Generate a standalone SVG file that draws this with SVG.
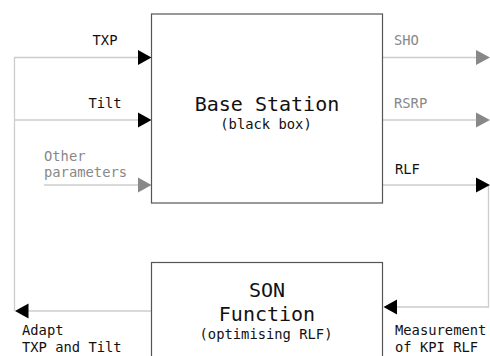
<svg xmlns="http://www.w3.org/2000/svg" width="490" height="356" viewBox="0 0 490 356">
  <style>
    .box { fill: #ffffff; stroke: #555555; stroke-width: 1.2; }
    .wire { fill: none; stroke: #cccccc; stroke-width: 1.3; }
    .t { font-family: "DejaVu Sans Mono", "Liberation Mono", monospace; }
    .sm { font-size: 13.8px; }
    .lg { font-size: 20px; }
    .dark { fill: #111111; }
    .dim { fill: #888888; }
    .head-k { fill: #000000; }
    .head-g { fill: #888888; }
  </style>
  <rect width="490" height="356" fill="#ffffff"/>

  <g id="connectors">
    <!-- feedback loop: SON output back to the station inputs -->
    <polyline class="wire" points="151.5,311 28,311"/>
    <polyline class="wire" points="14.5,311 14.5,57.5 138,57.5"/>
    <line class="wire" x1="14.5" y1="120" x2="138" y2="120"/>
    <line class="wire" x1="44" y1="185" x2="138" y2="185"/>
    <!-- station outputs -->
    <line class="wire" x1="382.5" y1="57.5" x2="476" y2="57.5"/>
    <line class="wire" x1="382.5" y1="120" x2="476" y2="120"/>
    <line class="wire" x1="382.5" y1="185" x2="476" y2="185"/>
    <polyline class="wire" points="488.5,185 488.5,307 397,307"/>
    <!-- arrowheads -->
    <polygon class="head-k" points="138,50 151.5,57.5 138,65"/>
    <polygon class="head-k" points="138,112.5 151.5,120 138,127.5"/>
    <polygon class="head-g" points="138,177.5 151.5,185 138,192.5"/>
    <polygon class="head-g" points="476,50 490,57.5 476,65"/>
    <polygon class="head-g" points="476,112.5 490,120 476,127.5"/>
    <polygon class="head-k" points="476,177.5 490,185 476,192.5"/>
    <polygon class="head-k" points="397,299.5 383.5,307 397,314.5"/>
    <polygon class="head-k" points="28.5,303.5 15,311 28.5,318.5"/>
  </g>

  <g id="base-station">
    <rect class="box" x="151.5" y="14" width="231" height="189"/>
    <text class="t lg dark" x="267" y="111" text-anchor="middle">Base Station</text>
    <text class="t sm dark" x="266" y="129" text-anchor="middle">(black box)</text>
  </g>

  <g id="son-function">
    <rect class="box" x="151.5" y="262.5" width="231" height="110"/>
    <text class="t lg dark" x="267" y="297" text-anchor="middle">SON</text>
    <text class="t lg dark" x="267" y="321" text-anchor="middle">Function</text>
    <text class="t sm dark" x="266" y="339" text-anchor="middle">(optimising RLF)</text>
  </g>

  <g id="labels">
    <text class="t sm dark" x="105" y="45" text-anchor="middle">TXP</text>
    <text class="t sm dark" x="105" y="107.5" text-anchor="middle">Tilt</text>
    <text class="t sm dim" x="44" y="161">Other</text>
    <text class="t sm dim" x="44" y="177">parameters</text>
    <text class="t sm dim" x="394" y="45">SHO</text>
    <text class="t sm dim" x="394" y="107.5">RSRP</text>
    <text class="t sm dark" x="395" y="174">RLF</text>
    <text class="t sm dark" x="22" y="334.5">Adapt</text>
    <text class="t sm dark" x="22" y="351.5">TXP and Tilt</text>
    <text class="t sm dark" x="395" y="334.5">Measurement</text>
    <text class="t sm dark" x="395" y="351.5">of KPI RLF</text>
  </g>
</svg>
